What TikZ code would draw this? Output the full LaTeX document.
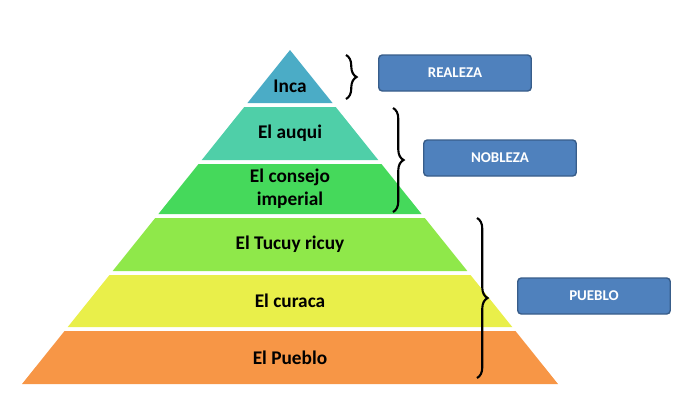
\documentclass[tikz,border=0pt]{standalone}
\usepackage{fontspec}
\setmainfont{Carlito}
\usetikzlibrary{decorations.pathreplacing}
\definecolor{cinca}{HTML}{4BACC6}
\definecolor{cauqui}{HTML}{4FCFA8}
\definecolor{cconsejo}{HTML}{45D95B}
\definecolor{ctucuy}{HTML}{8FE84A}
\definecolor{ccuraca}{HTML}{E9EF4A}
\definecolor{cpueblo}{HTML}{F79646}
\definecolor{cbox}{HTML}{4F81BD}
\definecolor{cboxline}{HTML}{385D8A}
\begin{document}
\begin{tikzpicture}
[
x=0.02cm, y=-0.02cm,
layer/.style={font=\bfseries\fontsize{11}{13}\selectfont, align=center, text=black},
tag/.style={rectangle, rounded corners=2pt, fill=cbox, draw=cboxline, thick, text=white, font=\bfseries\fontsize{8.5}{10}\selectfont, minimum width=3.05cm, minimum height=0.72cm},
brace/.style={decorate, decoration={brace, amplitude=6pt}, very thick}
]
\useasboundingbox (0,0) rectangle (694,414);
%Layers
\foreach \t/\b/\col/\name/\txt in {50/103/cinca/inca/Inca, 107/160/cauqui/auqui/El auqui, 164/214/cconsejo/consejo/El consejo\\imperial, 218/271/ctucuy/tucuy/El Tucuy ricuy, 275/327/ccuraca/curaca/El curaca, 331/384/cpueblo/pueblo/El Pueblo}
{
\fill[\col] ({290-(\t-50)*0.8024},\t) -- ({290+(\t-50)*0.8024},\t) -- ({290+(\b-50)*0.8024},\b) -- ({290-(\b-50)*0.8024},\b) -- cycle;
\node[layer] (\name) at (290,{(\t+\b)/2+ (\t==50 ? 10 : 0)}) {\txt};
}
%Tags
\node[tag] (realeza) at (455,73)  {REALEZA};
\node[tag] (nobleza) at (500,158) {NOBLEZA};
\node[tag] (puebloT) at (594,296) {PUEBLO};
%Braces
\coordinate (r1) at (346,55);  \coordinate (r2) at (346,99);
\coordinate (n1) at (393,108); \coordinate (n2) at (393,212);
\coordinate (p1) at (477,218); \coordinate (p2) at (477,378);
\draw[brace] (r1) -- (r2);
\draw[brace] (n1) -- (n2);
\draw[brace] (p1) -- (p2);
\end{tikzpicture}
\end{document}
